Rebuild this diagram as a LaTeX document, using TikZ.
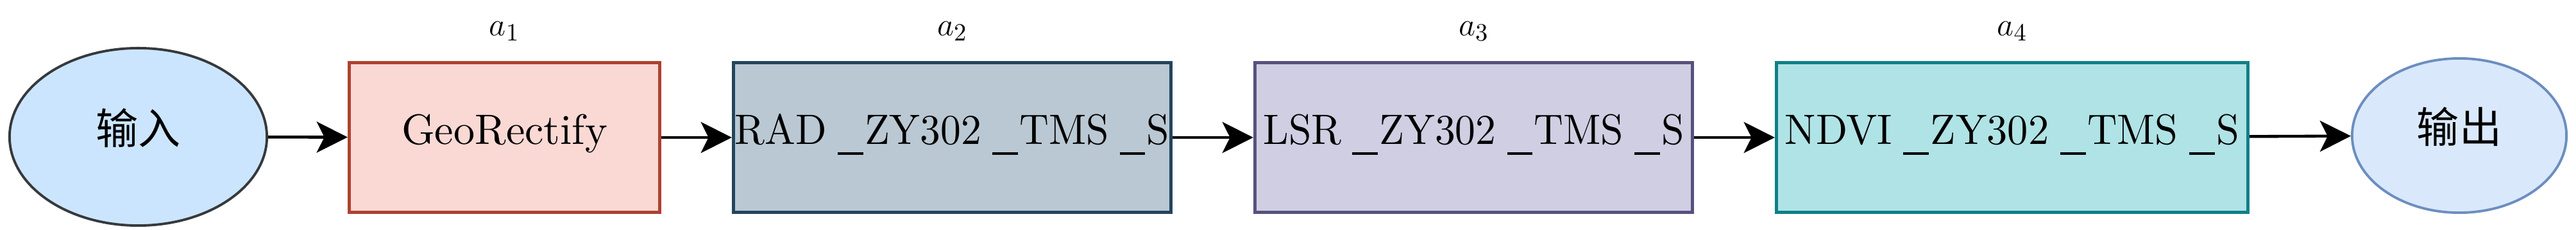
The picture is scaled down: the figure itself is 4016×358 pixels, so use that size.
\documentclass[tikz,border=0pt]{standalone}
\usepackage{fontspec}
\usepackage{graphicx}
\setmainfont{lmroman10-regular}[Extension=.otf]
\newfontfamily\cjk{Noto Sans CJK SC}
\usetikzlibrary{arrows.meta,shapes.geometric}
\definecolor{inD}{HTML}{36393D}\definecolor{inF}{HTML}{CCE5FF}
\definecolor{oneF}{HTML}{FAD9D5}\definecolor{oneD}{HTML}{AE4132}
\definecolor{twoF}{HTML}{BAC8D3}\definecolor{twoD}{HTML}{23445D}
\definecolor{threeF}{HTML}{D0CEE2}\definecolor{threeD}{HTML}{56517E}
\definecolor{fourF}{HTML}{B0E3E6}\definecolor{fourD}{HTML}{0E8088}
\definecolor{outF}{HTML}{DAE8FC}\definecolor{outD}{HTML}{6C8EBF}
\newcommand\usc{\kern0.27em\rule[-0.26em]{0.62em}{0.06em}\kern0.04em}
\newcommand\fittext[2]{\resizebox{#1}{\height}{#2}}
\begin{document}
\begin{tikzpicture}[x=0.01cm,y=-0.01cm,
  box/.style={rectangle, line width=1.4pt, minimum height=2.33cm, inner sep=0pt,
    text height=0.78em, text depth=0.2em, font=\fontsize{18.8}{22}\selectfont},
  oval/.style={ellipse, line width=1.1pt, inner sep=0pt,
    text height=0.8em, text depth=0.16em, font=\fontsize{18.8}{22}\selectfont\cjk},
  lbl/.style={anchor=base, inner sep=0pt, font=\fontsize{15.5}{18}\selectfont},
  flow/.style={line width=1.3pt, -{Stealth[length=13.7pt,width=13.7pt,inset=3.4pt]}}]
\useasboundingbox (0,0) rectangle (4016,358);
\node[oval, draw=inD, fill=inF, minimum width=4.01cm, minimum height=2.76cm] (in) at (215.5,213) {输入};
\node[box, draw=oneD, fill=oneF, minimum width=4.84cm] (b1) at (786.5,214) {GeoRectify};
\node[box, draw=twoD, fill=twoF, minimum width=6.82cm] (b2) at (1484.5,214) {\fittext{6.77cm}{RAD\usc ZY302\usc TMS\usc S}};
\node[box, draw=threeD, fill=threeF, minimum width=6.82cm] (b3) at (2297.5,214) {\fittext{6.56cm}{LSR\usc ZY302\usc TMS\usc S}};
\node[box, draw=fourD, fill=fourF, minimum width=7.35cm] (b4) at (3137,214) {\fittext{7.08cm}{NDVI\usc ZY302\usc TMS\usc S}};
\node[oval, draw=outD, fill=outF, minimum width=3.34cm, minimum height=2.40cm] (out) at (3834,211) {输出};
\node[lbl] (l1) at (786.5,56) {$a_1$};
\node[lbl] (l2) at (1484.5,56) {$a_2$};
\node[lbl] (l3) at (2297.5,56) {$a_3$};
\node[lbl] (l4) at (3137,56) {$a_4$};
\draw[flow] (in) -- (b1);
\draw[flow] (b1) -- (b2);
\draw[flow] (b2) -- (b3);
\draw[flow] (b3) -- (b4);
\draw[flow] (b4) -- (out);
\end{tikzpicture}
\end{document}
